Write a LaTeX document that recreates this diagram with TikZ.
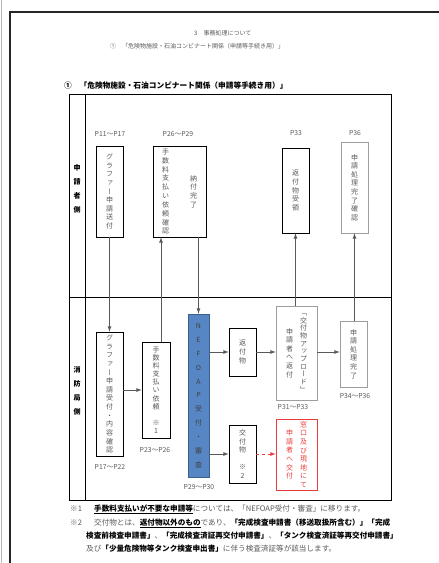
\documentclass[tikz,border=0pt]{standalone}
\usepackage{fontspec}
\usepackage{tikz}
\usetikzlibrary{arrows}
\setmainfont{Noto Sans CJK JP}
\newfontfamily\tatefont{Noto Sans CJK JP}[RawFeature=+vert]

\definecolor{txt}{gray}{0.35}
\definecolor{linegray}{gray}{0.35}
\definecolor{boxgray}{gray}{0.62}
\definecolor{nefblue}{RGB}{86,135,196}
\definecolor{handred}{RGB}{232,60,60}

% vertical (tategaki) text: one character per line
\makeatletter
\newcommand\tate[2][1.23]{$\vcenter{\tatefont\baselineskip=#1em\lineskiplimit=-\maxdimen\tate@#2\relax}$}
\def\tate@#1{\ifx\relax#1\else\hbox to 1em{\hss#1\hss}\expandafter\tate@\fi}
\makeatother

\tikzset{
  box/.style={draw=black, line width=0.7pt, inner sep=0pt, text=txt, font=\fontsize{7}{8}\selectfont},
  gbox/.style={box, draw=boxgray},
  pg/.style={inner sep=0pt, text=txt, font=\fontsize{6.8}{8}\selectfont},
  side/.style={inner sep=0pt, font=\bfseries\fontsize{7}{8}\selectfont},
  conn/.style={->, >=latex, draw=linegray, line width=0.8pt},
  fn/.style={inner sep=0pt, anchor=base west, text=txt, font=\fontsize{7.6}{9}\selectfont}
}

\begin{document}
\begin{tikzpicture}[x=1pt,y=-1pt]
  \useasboundingbox (0,0) rectangle (439,563);
  \draw[gray!55, line width=0.6pt] (1,0) -- (1,563);                 % thin line at the left edge
  \draw[black!85, line width=2pt] (10,563) -- (10,12) -- (439,12);   % page frame

  % headings
  \node[pg, anchor=west, font=\fontsize{6}{7}\selectfont] (title) at (194,33) {3　事務処理について};
  \node[pg, anchor=west, font=\fontsize{6}{7}\selectfont] (subtitle) at (110,46) {①　「危険物施設・石油コンビナート関係（申請等手続き用）」};
  \node[inner sep=0pt, anchor=west, font=\bfseries\fontsize{7.7}{9}\selectfont] (heading) at (64,86) {①　「危険物施設・石油コンビナート関係（申請等手続き用）」};

  % table
  \draw[line width=0.7pt] (69,94) rectangle (391,500);
  \draw[line width=0.7pt] (85,94) -- (85,500);
  \draw[line width=0.7pt] (69,297) -- (391,297);
  \node[side] (applicant) at (77,189) {\tate[2]{申請者側}};
  \node[side] (fire) at (77,391) {\tate[2]{消防局側}};

  % applicant side
  \node[box, minimum width=27, minimum height=91] (send) at (109.5,191.5) {\tate{グラファー申請送付}};
  \node[box, minimum width=53, minimum height=91] (payreq) at (179.5,191.5) {\tate[1.26]{手数料支払い依頼確認}\hspace{21pt}\tate{納付完了}\hspace{3pt}};
  \node[box, minimum width=27, minimum height=85] (receive) at (295.5,190.5) {\tate{返付物受領}};
  \node[gbox, minimum width=27, minimum height=91] (donecheck) at (354.5,187.5) {\tate{申請処理完了確認}};
  \node[pg] (p11) at (110,134) {P11～P17};
  \node[pg] (p26) at (178,134) {P26～P29};
  \node[pg] (p33) at (296,133) {P33};
  \node[pg] (p36) at (355,133) {P36};

  % fire department side
  \node[box, minimum width=27, minimum height=124] (accept) at (109.5,394) {\tate{グラファー申請受付・内容確認}};
  \node[box, minimum width=28, minimum height=96] (fee) at (156,390) {\tate[1.16]{手数料支払い依頼　※1}};
  \node[box, draw=nefblue!70!black, fill=nefblue, text=black!75, minimum width=21, minimum height=163] (nefoap) at (198.5,395.5) {\tate[1.98]{NEFOAP受付・審査}};
  \node[box, minimum width=27, minimum height=48] (ret) at (242.5,352) {\tate{返付物}};
  \node[box, minimum width=27, minimum height=58] (issue) at (242.5,454) {\tate{交付物　※2}};
  \node[gbox, minimum width=41, minimum height=94] (upload) at (296.5,353) {\tate{申請者へ返付}\hspace{7pt}\tate[1.1]{「交付物アップロード」}};
  \node[gbox, minimum width=27, minimum height=66] (done) at (353.5,354) {\tate{申請処理完了}};
  \node[box, draw=handred, text=handred, minimum width=41, minimum height=71] (hand) at (296.5,454.5) {\tate{申請者へ交付}\hspace{7pt}\tate{窓口及び現地にて}};
  \node[pg] (p17) at (110,467) {P17～P22};
  \node[pg] (p23) at (155,450) {P23～P26};
  \node[pg] (p29) at (199,487) {P29～P30};
  \node[pg] (p31) at (293,407) {P31～P33};
  \node[pg] (p34) at (355,396) {P34～P36};

  % connectors
  \draw[conn] (send) -- (accept);
  \draw[conn] ([xshift=5pt]fee.north) -- ([xshift=5pt]fee.north |- payreq.south);
  \draw[conn] (payreq.south -| nefoap.north) -- (nefoap.north);
  \draw[conn] (accept.east |- fee.west) -- (fee.west);
  \draw[conn] (nefoap.east |- ret.west) -- (ret.west);
  \draw[conn] (nefoap.east |- issue.west) -- (issue.west);
  \draw[conn] (ret.east) -- (ret.east -| upload.west);
  \draw[conn] (upload.east |- ret.east) -- (done.west |- ret.east);
  \draw[conn] (upload.north -| receive.south) -- (receive.south);
  \draw[conn] (done.north -| donecheck.south) -- (donecheck.south);
  \draw[conn, draw=handred, dashed] (issue.east) -- (issue.east -| hand.west);

  % notes
  \node[fn] (note1) at (70,511) {\makebox[24pt][l]{※1}\textcolor{black}{\underline{\textbf{手数料支払いが不要な申請等}}}については、「NEFOAP受付・審査」に移ります。};
  \node[fn] (note2) at (70,525) {\makebox[24pt][l]{※2}交付物とは、\textcolor{black}{\underline{\textbf{返付物以外のもの}}}であり、\textcolor{black}{\textbf{「完成検査申請書（移送取扱所含む）」「完成}}};
  \node[fn] (note3) at (86,538) {\textcolor{black}{\textbf{検査前検査申請書」}}、\textcolor{black}{\textbf{「完成検査済証再交付申請書」}}、\textcolor{black}{\textbf{「タンク検査済証等再交付申請書」}}};
  \node[fn] (note4) at (86,551) {及び\textcolor{black}{\textbf{「少量危険物等タンク検査申出書」}}に伴う検査済証等が該当します。};
\end{tikzpicture}
\end{document}
